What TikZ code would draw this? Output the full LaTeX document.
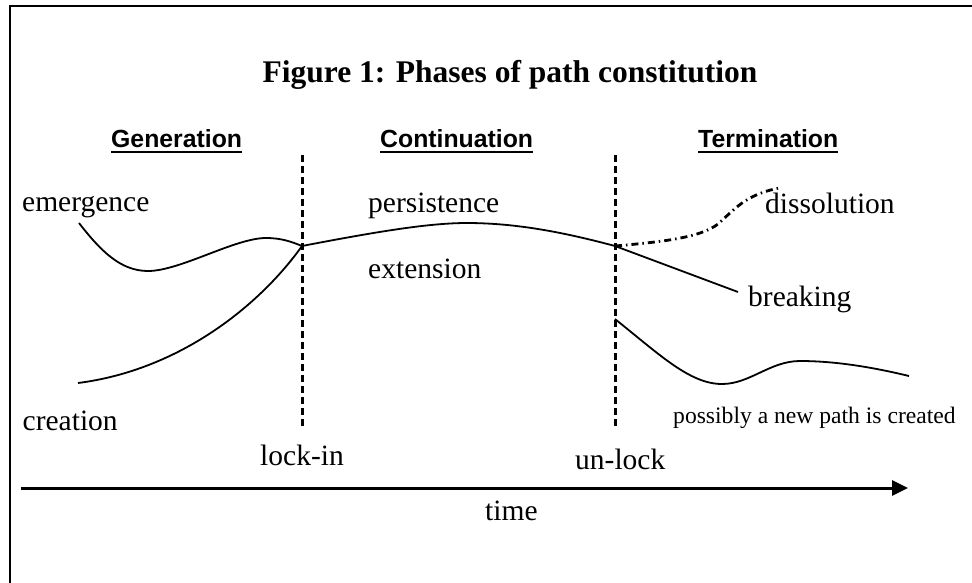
\documentclass[tikz,border=0pt]{standalone}
\usepackage{fontspec}
\setmainfont{Liberation Serif}
\newfontfamily\headfont{Liberation Sans}
\usetikzlibrary{arrows.meta}
\begin{document}
\begin{tikzpicture}[x=1pt,y=-1pt,
  lbl/.style={anchor=base west,inner sep=0pt,font=\fontsize{29.5}{31}\selectfont},
  small/.style={anchor=base west,inner sep=0pt,font=\fontsize{23.6}{25}\selectfont},
  head/.style={anchor=base west,inner sep=0pt,font=\headfont\bfseries\fontsize{24.8}{26}\selectfont},
  titlestyle/.style={anchor=base,inner sep=0pt,font=\bfseries\fontsize{31.5}{33}\selectfont},
  curve/.style={line width=1.8pt},
  phaseline/.style={line width=3pt,dash pattern=on 6.5pt off 4.5pt},
  dashdotline/.style={line width=2.8pt,dash pattern=on 7pt off 4pt on 1.5pt off 4pt},
  uline/.style={line width=1.4pt}]
\useasboundingbox (0,0) rectangle (972,582);
\draw[line width=2pt] (10,6) rectangle (1000,620);

% title
\node[titlestyle] (title) at (510,82) {Figure 1: Phases of path constitution};

% headings
\node[head] (gen) at (111,147) {Generation};
\node[head] (con) at (380,147) {Continuation};
\node[head] (ter) at (698,147) {Termination};
\foreach \h in {gen,con,ter}
  \draw[uline] ([yshift=-5pt]\h.base west) -- ([yshift=-5pt]\h.base east);

% phase boundaries
\coordinate (Ltop) at (302,155);
\coordinate (Lbot) at (302,430);
\coordinate (Utop) at (615,155);
\coordinate (Ubot) at (615,428);
\draw[phaseline] (Ltop) -- (Lbot);
\draw[phaseline] (Utop) -- (Ubot);

% junctions and ends
\coordinate (L) at (302,246);
\coordinate (U) at (615,246);
\coordinate (emA) at (79,223);
\coordinate (crA) at (78,383);
\coordinate (dsB) at (779,188);
\coordinate (brB) at (738,292);
\coordinate (npA) at (615,319);
\coordinate (npB) at (909,376);

% curves
\draw[curve] (emA) .. controls (100,250) and (120,271) .. (148,271)
  .. controls (180,271) and (235,238) .. (266,238)
  .. controls (282,238) and (292,242) .. (L);
\draw[curve] (crA) .. controls (180,370) and (260,305) .. (L);
\draw[curve] (L) .. controls (380,231) and (430,223) .. (467,223)
  .. controls (520,223) and (570,234) .. (U);
\draw[dashdotline] (U) .. controls (660,242) and (700,238) .. (718,224)
  .. controls (735,209) and (745,195) .. (dsB);
\draw[curve] (U) -- (brB);
\draw[curve] (npA) .. controls (660,355) and (690,384) .. (722,384)
  .. controls (750,384) and (770,361) .. (800,361)
  .. controls (840,361) and (880,369) .. (npB);

% labels
\node[lbl] (emergence) at (22,211) {emergence};
\node[lbl] (creation) at (22.5,430) {creation};
\node[lbl] (persistence) at (368,212) {persistence};
\node[lbl] (extension) at (368,278) {extension};
\node[lbl] (dissolution) at (765,213) {dissolution};
\node[lbl] (breaking) at (748,306) {breaking};
\node[lbl] (lockin) at (260,465) {lock-in};
\node[lbl] (unlock) at (575,469) {un-lock};
\node[small] (newpath) at (673,423) {possibly a new path is created};

% time axis
\coordinate (t0) at (21,488);
\coordinate (t1) at (908,488);
\draw[line width=3pt,-{Triangle[length=16pt,width=15pt]}] (t0) -- (t1);
\node[lbl] (time) at (485,520) {time};
\end{tikzpicture}
\end{document}
